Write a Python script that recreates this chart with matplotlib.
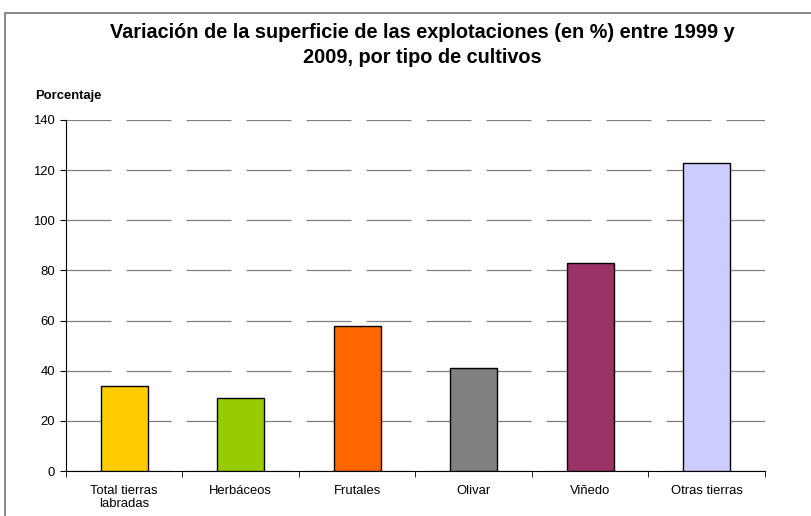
import numpy as np
import matplotlib.pyplot as plt
from matplotlib.patches import Rectangle

categorias = ['Total tierras\nlabradas', 'Herbáceos', 'Frutales', 'Olivar', 'Viñedo', 'Otras tierras']
valores = [34, 29, 58, 41, 83, 123]
colores = ['#FFCC00', '#99CC00', '#FF6600', '#808080', '#993366', '#CCCCFF']

plt.rcParams['font.family'] = ['Liberation Sans', 'DejaVu Sans']

fig = plt.figure(figsize=(8.12, 5.16), dpi=100)
ax = fig.add_axes([66/812, 45/516, (765-66)/812, (471-120)/516])

x = np.arange(len(categorias))
ax.bar(x, valores, width=0.4, color=colores, edgecolor='black', linewidth=1, zorder=3)

ax.set_xlim(-0.5, len(categorias) - 0.5)
ax.set_ylim(0, 140)
ax.set_yticks(np.arange(0, 141, 20))
ax.set_xticks(x)
ax.set_xticklabels(categorias, fontsize=9.4, linespacing=1.1)
ax.set_xticks(np.arange(-0.5, len(categorias), 1), minor=True)
ax.tick_params(axis='x', which='major', length=0, pad=10)
ax.tick_params(axis='x', which='minor', length=4, direction='out')
ax.tick_params(axis='y', labelsize=9.4, length=4, direction='out', pad=4)

ax.yaxis.grid(True, color='#808080', linewidth=0.9, linestyle=(0, (36, 12)), zorder=0)
for s in ['top', 'right']:
    ax.spines[s].set_visible(False)

fig.text(422/812, 1 - 45/516, 'Variación de la superficie de las explotaciones (en %) entre 1999 y\n2009, por tipo de cultivos',
         ha='center', va='center', fontsize=14.3, fontweight='bold', linespacing=1.35)
fig.text(35/812, 1 - 96/516, 'Porcentaje', ha='left', va='center', fontsize=9.4, fontweight='bold')

fig.patches.append(Rectangle((5/812, -0.1), 1.0, 1.1 - 13/516, transform=fig.transFigure,
                             fill=False, edgecolor='#808080', linewidth=1.3))

fig.savefig('out.png', dpi=100)
